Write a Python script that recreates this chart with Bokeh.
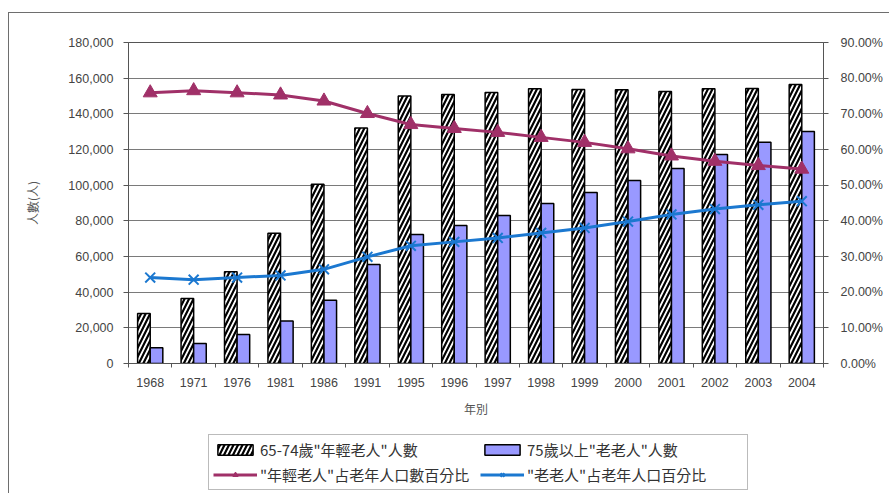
from bokeh.plotting import figure
from bokeh.layouts import column
from bokeh.models import (Range1d, LinearAxis, FixedTicker, NumeralTickFormatter,
                          PrintfTickFormatter, Legend, LegendItem, ColumnDataSource)
from bokeh.embed import file_html
from bokeh.resources import INLINE

years = ["1968", "1971", "1976", "1981", "1986", "1991", "1995", "1996",
         "1997", "1998", "1999", "2000", "2001", "2002", "2003", "2004"]
young_old = [28000, 36500, 51500, 73000, 100500, 132000, 150000, 150800,
             152000, 154000, 153700, 153500, 152500, 154000, 154200, 156500]
old_old = [8800, 11200, 16200, 23800, 35500, 55500, 72300, 77400,
           83000, 89700, 95900, 102600, 109300, 117200, 124000, 130100]
young_pct = [75.9, 76.5, 75.9, 75.3, 73.6, 70.1, 67.0, 65.9,
             64.8, 63.4, 62.0, 60.2, 58.2, 56.7, 55.5, 54.5]
old_pct = [24.1, 23.5, 24.1, 24.7, 26.4, 29.9, 33.0, 34.1,
           35.2, 36.6, 38.0, 39.8, 41.8, 43.3, 44.5, 45.5]
left_ticks = [0, 20000, 40000, 60000, 80000, 100000, 120000, 140000, 160000, 180000]
right_ticks = [0, 10, 20, 30, 40, 50, 60, 70, 80, 90]

labels = ['65-74歲"年輕老人"人數', '75歲以上"老老人"人數',
          '"年輕老人"占老年人口數百分比', '"老老人"占老年人口百分比']

n = len(years)
centers = [i + 0.5 for i in range(n)]
src = ColumnDataSource(dict(
    x1=[c - 0.145 for c in centers], x2=[c + 0.145 for c in centers], xc=centers,
    yo=young_old, oo=old_old, yp=young_pct, op=old_pct))

FONT = "Liberation Sans"
CJK = "Noto Sans CJK TC"
RED = "#A03068"
BLUE = "#1B78D0"
PURPLE = "#9999FF"

bar1_style = dict(fill_color="white", line_color="black", line_width=1.5,
                  hatch_pattern="/", hatch_color="black", hatch_scale=9, hatch_weight=2.2)
bar2_style = dict(fill_color=PURPLE, line_color="black", line_width=1.5)


def draw_series(fig, pct_range=None, msize=14):
    kw = {} if pct_range is None else {"y_range_name": pct_range}
    rb1 = fig.vbar(x="x1", top="yo", width=0.29, source=src, **bar1_style)
    rb2 = fig.vbar(x="x2", top="oo", width=0.29, source=src, **bar2_style)
    rl1 = fig.line(x="xc", y="yp", source=src, line_color=RED, line_width=3, **kw)
    rm1 = fig.scatter(x="xc", y="yp", source=src, marker="triangle",
                      size=msize, fill_color=RED, line_color=RED, **kw)
    rl2 = fig.line(x="xc", y="op", source=src, line_color=BLUE, line_width=3, **kw)
    rm2 = fig.scatter(x="xc", y="op", source=src, marker="x",
                      size=msize, line_color=BLUE, line_width=2, **kw)
    return rb1, rb2, rl1, rm1, rl2, rm2


p = figure(width=880, height=413, frame_width=695, frame_height=321,
           min_border_left=119, min_border_right=66, min_border_top=29, min_border_bottom=63,
           x_range=Range1d(0, n), y_range=Range1d(0, 180000),
           output_backend="svg", toolbar_location=None)
p.extra_y_ranges = {"pct": Range1d(0, 90)}
draw_series(p, "pct")

# x axis
xa = p.xaxis[0]
xa.ticker = FixedTicker(ticks=centers, minor_ticks=list(range(n + 1)))
xa.major_label_overrides = {c: y for c, y in zip(centers, years)}
xa.major_tick_line_color = None
xa.minor_tick_in = 0
xa.minor_tick_out = 4
xa.minor_tick_line_color = "#555555"
xa.axis_line_color = "#555555"
xa.axis_label = "年別"
xa.axis_label_text_font = CJK
xa.axis_label_text_font_style = "normal"
xa.axis_label_text_font_size = "12px"
xa.axis_label_text_color = "#555555"
xa.axis_label_standoff = 10
xa.major_label_text_font = FONT
xa.major_label_text_font_size = "12.5px"
xa.major_label_standoff = 8

# left axis
ya = p.yaxis[0]
ya.ticker = FixedTicker(ticks=left_ticks)
ya.formatter = NumeralTickFormatter(format="0,0")
ya.axis_label = "人數(人)"
ya.axis_label_text_font = CJK
ya.axis_label_text_font_style = "normal"
ya.axis_label_text_font_size = "12px"
ya.axis_label_text_color = "#555555"
ya.axis_label_standoff = 24
ya.major_label_text_font = FONT
ya.major_label_text_font_size = "12.5px"
ya.major_label_standoff = 10
ya.minor_tick_line_color = None
ya.major_tick_in = 0
ya.major_tick_out = 5
ya.axis_line_color = "#555555"
ya.major_tick_line_color = "#555555"

# right axis
ra = LinearAxis(y_range_name="pct", ticker=FixedTicker(ticks=right_ticks),
                formatter=PrintfTickFormatter(format="%.2f%%"))
ra.major_label_text_font = FONT
ra.major_label_text_font_size = "12.5px"
ra.major_label_standoff = 12
ra.minor_tick_line_color = None
ra.major_tick_in = 0
ra.major_tick_out = 5
ra.axis_line_color = "#555555"
ra.major_tick_line_color = "#555555"
p.add_layout(ra, "right")

p.xgrid.grid_line_color = None
p.ygrid.ticker = FixedTicker(ticks=left_ticks)
p.ygrid.grid_line_color = "#7a7a7a"
p.ygrid.grid_line_width = 1
p.outline_line_color = "#555555"

# legend strip: a second figure whose copies of the series lie out of view (left of and
# below its frame), so that only the legend (outside the main plot frame) shows
q = figure(width=880, height=68, min_border=0, x_range=Range1d(50, 66),
           y_range=Range1d(1000000, 2000000),
           x_axis_location=None, y_axis_location=None, output_backend="svg",
           toolbar_location=None)
q.grid.visible = False
q.outline_line_color = None
r1, r2, r3a, r3b, r4a, r4b = draw_series(q, msize=12)

legend = Legend(items=[
    LegendItem(label=labels[0], renderers=[r1]),
    LegendItem(label=labels[1], renderers=[r2]),
    LegendItem(label=labels[2], renderers=[r3a, r3b]),
    LegendItem(label=labels[3], renderers=[r4a, r4b]),
], location=(80, 4), orientation="horizontal", ncols=2,
    label_text_font=CJK, label_text_font_size="15px", label_text_color="#333333",
    glyph_width=44, glyph_height=13, label_standoff=3, spacing=4, padding=4,
    label_width=216, label_height=20, margin=0, border_line_color="#777777",
    border_line_width=1.2, background_fill_alpha=0)
q.add_layout(legend, "center")

layout = column(p, q, spacing=0, margin=(12, 0, 0, 8),
                styles={"border-left": "1.5px solid #6e6e6e", "border-top": "1.5px solid #6e6e6e"})

open("out.html", "w").write(file_html(layout, INLINE))
